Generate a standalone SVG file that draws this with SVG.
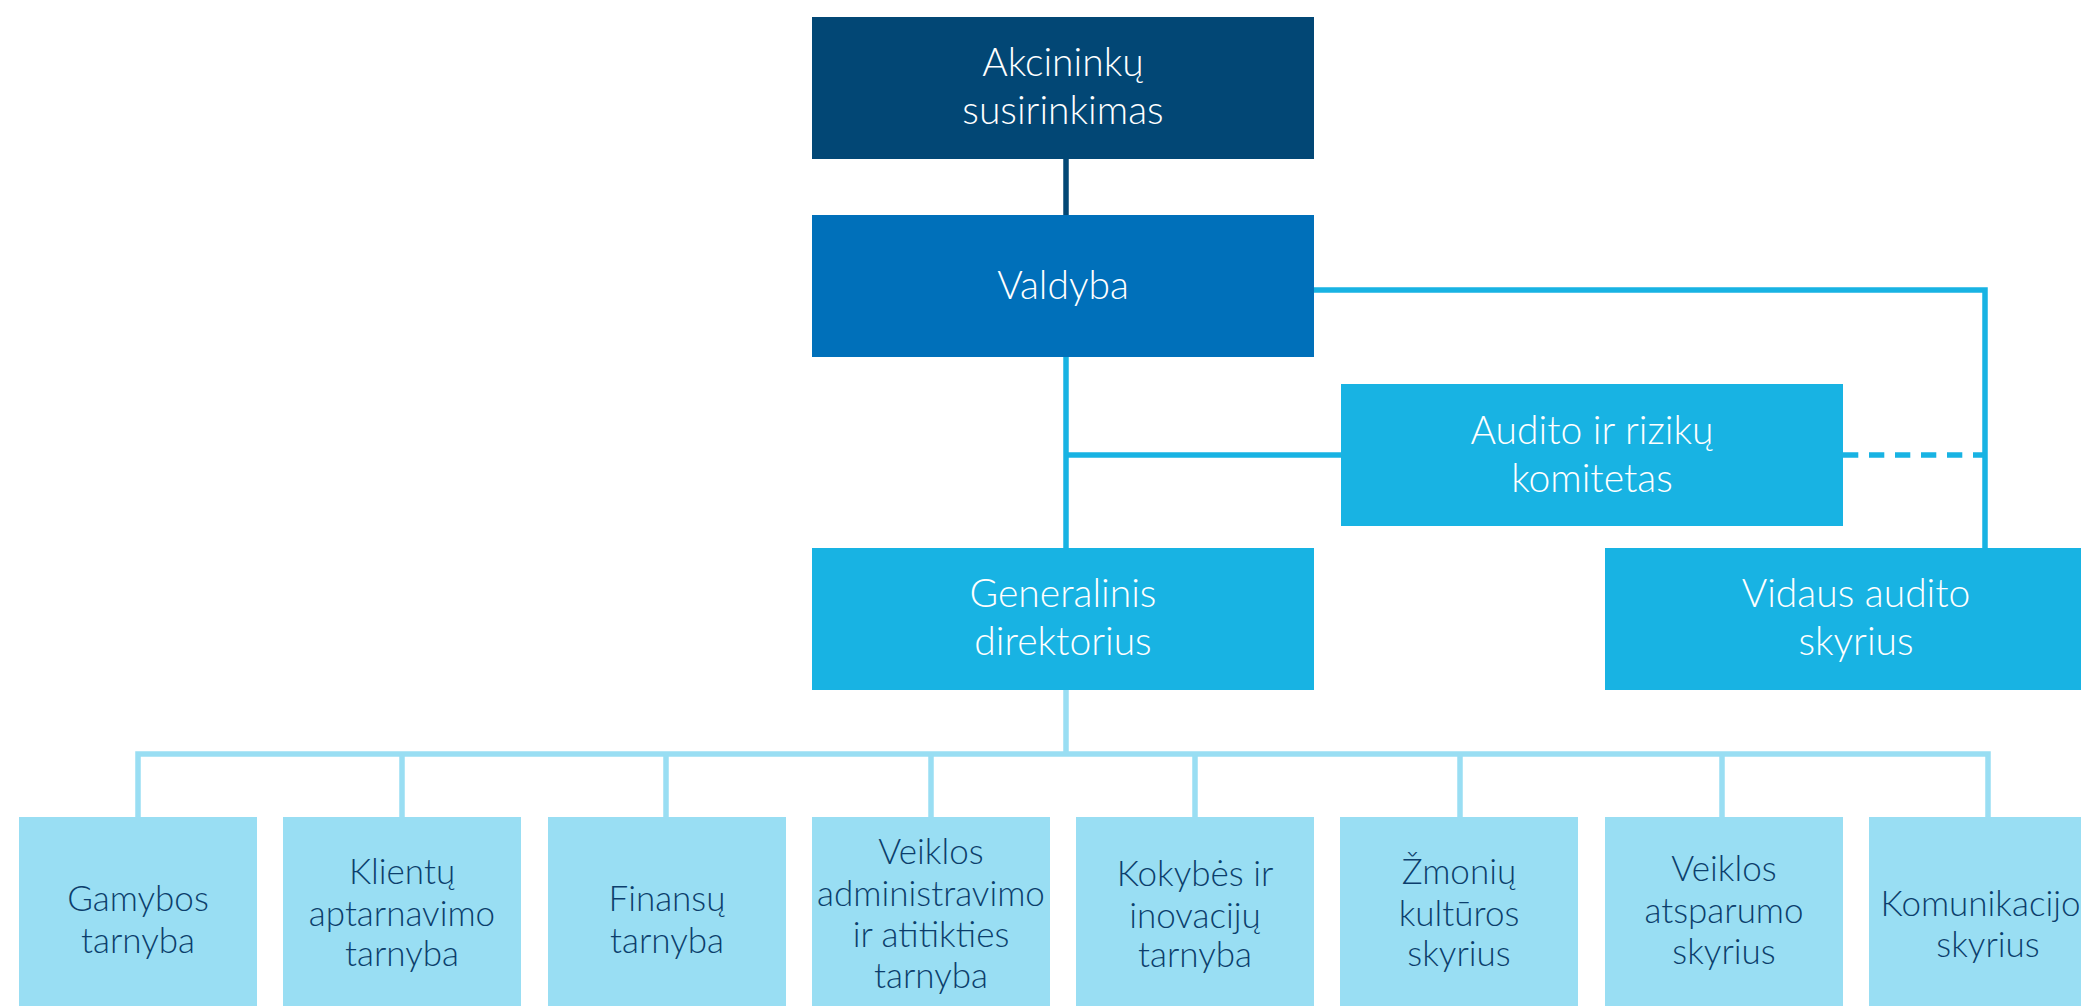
<svg xmlns="http://www.w3.org/2000/svg" width="2081" height="1006" viewBox="0 0 2081 1006">
<style>
text{font-family:Lato,"Open Sans","Liberation Sans",sans-serif;font-weight:300;text-anchor:middle}
.w{fill:#ffffff;font-size:39px}
.d{fill:#0c3e6c;font-size:35px}
.c1{fill:#024775}
.c2{fill:#0070ba}
.c3{fill:#18b3e3}
.c4{fill:#99def3}
.l{fill:none;stroke-width:5.5}
</style>
<rect width="2081" height="1006" fill="#ffffff"/>
<g id="connectors">
<line class="l" stroke="#024775" x1="1066" y1="158" x2="1066" y2="216"/>
<polyline class="l" stroke="#18b3e3" points="1313,290 1985,290 1985,549"/>
<line class="l" stroke="#18b3e3" x1="1066" y1="355" x2="1066" y2="549"/>
<line class="l" stroke="#18b3e3" x1="1066" y1="455" x2="1341" y2="455"/>
<line class="l" stroke="#18b3e3" x1="1843" y1="455" x2="1983" y2="455" stroke-dasharray="15.3 10.7"/>
<line class="l" stroke="#99def3" x1="1066" y1="689" x2="1066" y2="754"/>
<polyline class="l" stroke="#99def3" points="138,818 138,754 1988,754 1988,818"/>
<line class="l" stroke="#99def3" x1="402" y1="754" x2="402" y2="818"/>
<line class="l" stroke="#99def3" x1="666" y1="754" x2="666" y2="818"/>
<line class="l" stroke="#99def3" x1="931" y1="754" x2="931" y2="818"/>
<line class="l" stroke="#99def3" x1="1195" y1="754" x2="1195" y2="818"/>
<line class="l" stroke="#99def3" x1="1460" y1="754" x2="1460" y2="818"/>
<line class="l" stroke="#99def3" x1="1722" y1="754" x2="1722" y2="818"/>
</g>
<g id="akcininku">
<rect class="c1" x="812" y="17" width="502" height="142"/>
<text class="w" x="1063" y="76">Akcininkų</text>
<text class="w" x="1063" y="124">susirinkimas</text>
</g>
<g id="valdyba">
<rect class="c2" x="812" y="215" width="502" height="142"/>
<text class="w" x="1063" y="299">Valdyba</text>
</g>
<g id="audito">
<rect class="c3" x="1341" y="384" width="502" height="142"/>
<text class="w" x="1592" y="444">Audito ir rizikų</text>
<text class="w" x="1592" y="492">komitetas</text>
</g>
<g id="generalinis">
<rect class="c3" x="812" y="548" width="502" height="142"/>
<text class="w" x="1063" y="607">Generalinis</text>
<text class="w" x="1063" y="655">direktorius</text>
</g>
<g id="vidaus">
<rect class="c3" x="1605" y="548" width="502" height="142"/>
<text class="w" x="1856" y="607">Vidaus audito</text>
<text class="w" x="1856" y="655">skyrius</text>
</g>
<g id="gamybos">
<rect class="c4" x="19" y="817" width="238" height="189"/>
<text class="d" x="138" y="911">Gamybos</text>
<text class="d" x="138" y="953">tarnyba</text>
</g>
<g id="klientu">
<rect class="c4" x="283" y="817" width="238" height="189"/>
<text class="d" x="402" y="884">Klientų</text>
<text class="d" x="402" y="926">aptarnavimo</text>
<text class="d" x="402" y="966">tarnyba</text>
</g>
<g id="finansu">
<rect class="c4" x="548" y="817" width="238" height="189"/>
<text class="d" x="667" y="911">Finansų</text>
<text class="d" x="667" y="953">tarnyba</text>
</g>
<g id="veiklos-admin">
<rect class="c4" x="812" y="817" width="238" height="189"/>
<text class="d" x="931" y="864">Veiklos</text>
<text class="d" x="931" y="906">administravimo</text>
<text class="d" x="931" y="947">ir atitikties</text>
<text class="d" x="931" y="988">tarnyba</text>
</g>
<g id="kokybes">
<rect class="c4" x="1076" y="817" width="238" height="189"/>
<text class="d" x="1195" y="886">Kokybės ir</text>
<text class="d" x="1195" y="928">inovacijų</text>
<text class="d" x="1195" y="967">tarnyba</text>
</g>
<g id="zmoniu">
<rect class="c4" x="1340" y="817" width="238" height="189"/>
<text class="d" x="1459" y="884">Žmonių</text>
<text class="d" x="1459" y="926">kultūros</text>
<text class="d" x="1459" y="966">skyrius</text>
</g>
<g id="veiklos-atsp">
<rect class="c4" x="1605" y="817" width="238" height="189"/>
<text class="d" x="1724" y="881">Veiklos</text>
<text class="d" x="1724" y="923">atsparumo</text>
<text class="d" x="1724" y="964">skyrius</text>
</g>
<g id="komunikacijos">
<rect class="c4" x="1869" y="817" width="238" height="189"/>
<text class="d" x="1988" y="916">Komunikacijos</text>
<text class="d" x="1988" y="957">skyrius</text>
</g>
</svg>
